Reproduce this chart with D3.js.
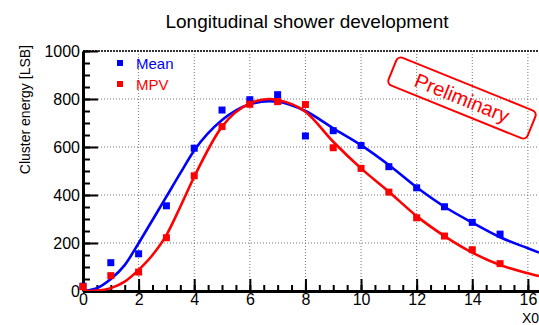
<!DOCTYPE html>
<html>
<head>
<meta charset="utf-8">
<script src="https://cdn.jsdelivr.net/npm/d3@7"></script>
<style>
  body { margin: 0; background: #fff; }
  svg { display: block; font-family: "Liberation Sans", Arial, sans-serif; }
</style>
</head>
<body>
<div id="chart-area"></div>
<script>
// depth in radiation lengths
const depth = [0, 1, 2, 3, 4, 5, 6, 7, 8, 9, 10, 11, 12, 13, 14, 15];
const meanValues = [20, 118, 155, 355, 595, 754, 797, 818, 646, 668, 606, 518, 430, 351, 286, 237];
const mpvValues = [18, 64, 79, 222, 480, 685, 778, 789, 777, 597, 511, 412, 305, 229, 172, 114];

// fitted profiles
const fitDepth = [0, 0.5, 1, 1.5, 2, 2.5, 3, 3.5, 4, 5, 6, 6.7, 7, 8, 9, 10, 11, 12, 13, 14, 15, 16, 16.4];
const meanFit = [0, 12, 50, 108, 199, 296, 393, 491, 585, 712, 778, 791, 789, 750, 678, 608, 525, 432, 351, 285, 224, 178, 160];
const mpvFit = [0, 2, 12, 39, 88, 150, 233, 351, 476, 685, 782, 800, 796, 747, 622, 511, 414, 312, 229, 160, 108, 74, 62];

const xMajor = [0, 2, 4, 6, 8, 10, 12, 14, 16];
const yMajor = [0, 200, 400, 600, 800, 1000];

const W = 539, H = 325;
const m = { left: 83, top: 51, right: 0, bottom: 34 };
const width = W - m.left - m.right, height = H - m.top - m.bottom;

const svg = d3.select('#chart-area').append('svg')
  .attr('width', W).attr('height', H);

const g = svg.append('g').attr('transform', `translate(${m.left}, ${m.top})`);

const x = d3.scaleLinear().domain([0, 16.4]).range([0, width]);
const y = d3.scaleLinear().domain([0, 1000]).range([height, 0]);

// grid
g.append('g').selectAll('line').data(xMajor.slice(1)).enter().append('line')
  .attr('x1', d => x(d)).attr('x2', d => x(d)).attr('y1', 0).attr('y2', height)
  .attr('stroke', '#777').attr('stroke-width', 1).attr('stroke-dasharray', '1,2');
g.append('g').selectAll('line').data(yMajor.slice(1, -1)).enter().append('line')
  .attr('x1', 0).attr('x2', width).attr('y1', d => y(d)).attr('y2', d => y(d))
  .attr('stroke', '#777').attr('stroke-width', 1).attr('stroke-dasharray', '1,2');
// top frame
g.append('line').attr('x1', 0).attr('x2', width).attr('y1', y(1000)).attr('y2', y(1000))
  .attr('stroke', '#333').attr('stroke-width', 2).attr('stroke-dasharray', '2,1');

const font = '"Liberation Sans", Arial, sans-serif';

// x axis
const xMinor = d3.range(0, 16.01, 0.5);
g.append('g').attr('transform', `translate(0, ${height})`)
  .call(d3.axisBottom(x).tickValues(xMinor).tickSizeInner(-6).tickSizeOuter(0).tickFormat(''))
  .call(a => a.select('.domain').remove())
  .selectAll('line').attr('stroke', '#000').attr('stroke-width', 2);
g.append('g').attr('class', 'x axis').attr('transform', `translate(0, ${height})`)
  .call(d3.axisBottom(x).tickValues(xMajor).tickSizeInner(-12).tickSizeOuter(0).tickPadding(3).tickFormat(d3.format('d')))
  .call(a => a.select('.domain').attr('stroke-width', 3))
  .call(a => a.selectAll('line').attr('stroke-width', 2))
  .selectAll('text').attr('font-size', '16px').attr('fill', '#000').attr('font-family', font);

// y axis
const yMinor = d3.range(0, 1001, 50);
g.append('g')
  .call(d3.axisLeft(y).tickValues(yMinor).tickSizeInner(-7).tickSizeOuter(0).tickFormat(''))
  .call(a => a.select('.domain').remove())
  .selectAll('line').attr('stroke', '#000').attr('stroke-width', 2);
g.append('g').attr('class', 'y axis')
  .call(d3.axisLeft(y).tickValues(yMajor).tickSizeInner(-15).tickSizeOuter(0).tickPadding(3).tickFormat(d3.format('d')))
  .call(a => a.select('.domain').attr('stroke-width', 3))
  .call(a => a.selectAll('line').attr('stroke-width', 2))
  .selectAll('text').attr('font-size', '16px').attr('fill', '#000').attr('font-family', font);

// fit curves
svg.append('clipPath').attr('id', 'plotclip').append('rect')
  .attr('x', 0).attr('y', 0).attr('width', width).attr('height', height);
const line = ys => d3.line().x(d => x(d)).y((d, i) => y(ys[i])).curve(d3.curveMonotoneX);
g.append('path').datum(fitDepth).attr('d', line(meanFit))
  .attr('fill', 'none').attr('stroke', '#0000ff').attr('stroke-width', 2.6).attr('clip-path', 'url(#plotclip)');
g.append('path').datum(fitDepth).attr('d', line(mpvFit))
  .attr('fill', 'none').attr('stroke', '#ff0000').attr('stroke-width', 2.6).attr('clip-path', 'url(#plotclip)');

// markers
const sq = 7;
g.append('g').selectAll('rect').data(depth).enter().append('rect')
  .attr('x', d => x(d) - sq / 2).attr('y', (d, i) => y(meanValues[i]) - sq / 2)
  .attr('width', sq).attr('height', sq).attr('fill', '#0000ff');
g.append('g').selectAll('rect').data(depth).enter().append('rect')
  .attr('x', d => x(d) - sq / 2).attr('y', (d, i) => y(mpvValues[i]) - sq / 2)
  .attr('width', sq).attr('height', sq).attr('fill', '#ff0000');

// legend
const legend = [{ name: 'Mean', color: '#0000ff', y: 63 }, { name: 'MPV', color: '#ff0000', y: 84 }];
legend.forEach(l => {
  svg.append('rect').attr('x', 117).attr('y', l.y - 3).attr('width', 6).attr('height', 6).attr('fill', l.color);
  svg.append('text').attr('x', 136).attr('y', l.y + 6).attr('font-size', '15px')
    .attr('fill', l.color).text(l.name);
});

// title
svg.append('text').attr('x', 307).attr('y', 28).attr('text-anchor', 'middle')
  .attr('font-size', '19px').attr('fill', '#000').text('Longitudinal shower development');

// y label
svg.append('text').attr('transform', 'rotate(-90)').attr('x', -45).attr('y', 30)
  .attr('text-anchor', 'end').attr('font-size', '14px').attr('fill', '#000')
  .text('Cluster energy [LSB]');

// x label
svg.append('text').attr('x', 539).attr('y', 323).attr('text-anchor', 'end')
  .attr('font-size', '14px').attr('fill', '#000').text('X0');

// preliminary stamp
const stamp = svg.append('g').attr('transform', 'translate(462, 98) rotate(22)');
stamp.append('rect').attr('x', -75).attr('y', -15).attr('width', 150).attr('height', 30)
  .attr('rx', 5).attr('fill', 'none').attr('stroke', '#ff0000').attr('stroke-width', 2);
stamp.append('text').attr('x', 0).attr('y', 7).attr('text-anchor', 'middle')
  .attr('font-size', '20px').attr('fill', '#ff0000').text('Preliminary');
</script>
</body>
</html>
